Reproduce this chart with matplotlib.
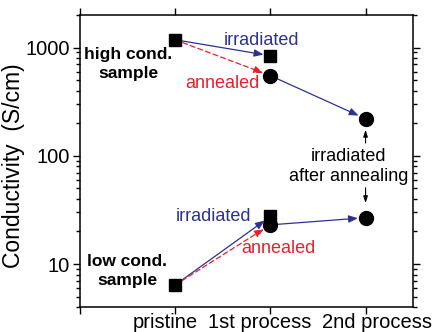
import matplotlib
matplotlib.use("Agg")
import matplotlib.pyplot as plt
import matplotlib.transforms as mtransforms
from matplotlib.ticker import FixedLocator, FixedFormatter, LogLocator, NullFormatter

plt.rcParams['font.family'] = ['Liberation Sans', 'DejaVu Sans']

# stages along the x axis
stages = ["pristine", "1st process", "2nd process"]
stage_pos = [1, 2, 3]

# conductivity values (S/cm)
high_irr = [1180, 840]          # pristine -> 1st process (irradiated)
high_ann = [1180, 550, 220]     # pristine -> annealed -> irradiated after annealing
low_irr = [6.4, 27.5]
low_ann = [6.4, 23, 26.8]

blue = "#2e3192"
red = "#e8202a"

fig = plt.figure(figsize=(4.34, 3.32), dpi=100)
ax = fig.add_axes([0.184, 0.075, 0.768, 0.88])
ax.set_yscale("log")
ax.set_xlim(0, 3.5)
ax.set_ylim(4, 2000)


def arrow(x0, y0, x1, y1, color, ls="-", sa=0, sb=5):
    ax.annotate("", xy=(x1, y1), xytext=(x0, y0),
                arrowprops=dict(arrowstyle="-|>,head_length=0.55,head_width=0.22",
                                color=color, lw=0.9, linestyle=ls,
                                shrinkA=sa, shrinkB=sb),
                zorder=2)


for irr, ann in [(high_irr, high_ann), (low_irr, low_ann)]:
    arrow(stage_pos[0], irr[0], stage_pos[1], irr[1], blue, sb=5)
    arrow(stage_pos[0], ann[0], stage_pos[1], ann[1], red, ls=(0, (4, 2.5)), sb=5.5)
    arrow(stage_pos[1], ann[1], stage_pos[2], ann[2], blue, sb=5.5)
    ax.plot(stage_pos[:2], irr, ls="none", marker="s", ms=8.5, color="black", zorder=3)
    ax.plot(stage_pos[1:], ann[1:], ls="none", marker="o", ms=10, color="black", zorder=3)

# small black arrows to the "irradiated after annealing" points
ax.annotate("", xy=(stage_pos[2], high_ann[2]), xytext=(0, -17.5), textcoords="offset points",
            arrowprops=dict(arrowstyle="-|>,head_length=0.4,head_width=0.13",
                            color="black", lw=0.8, shrinkA=0, shrinkB=8))
ax.annotate("", xy=(stage_pos[2], low_ann[2]), xytext=(0, 21.5), textcoords="offset points",
            arrowprops=dict(arrowstyle="-|>,head_length=0.4,head_width=0.13",
                            color="black", lw=0.8, shrinkA=0, shrinkB=10.5))

fs = 13
ax.text(0.51, 710, "high cond.\nsample", ha="center", va="center", fontsize=12.5,
        fontweight="bold", linespacing=1.35)
ax.text(0.50, 8.6, "low cond.\nsample", ha="center", va="center", fontsize=12.5,
        fontweight="bold", linespacing=1.35)
ax.text(1.91, 1160, "irradiated", ha="center", va="center", fontsize=fs, color=blue)
ax.text(1.50, 462, "annealed", ha="center", va="center", fontsize=fs, color=red)
ax.text(1.40, 27.4, "irradiated", ha="center", va="center", fontsize=fs, color=blue)
ax.text(2.08, 13.8, "annealed", ha="center", va="center", fontsize=fs, color=red)
ax.text(2.82, 80, "irradiated\nafter annealing", ha="center", va="center", fontsize=fs,
        linespacing=1.25)

ax.xaxis.set_major_locator(FixedLocator([0] + stage_pos))
ax.xaxis.set_major_formatter(FixedFormatter([""] + stages))
ax.yaxis.set_major_locator(FixedLocator([10, 100, 1000]))
ax.yaxis.set_major_formatter(FixedFormatter(["10", "100", "1000"]))
ax.yaxis.set_minor_locator(LogLocator(base=10, subs=range(2, 10)))
ax.yaxis.set_minor_formatter(NullFormatter())

ax.tick_params(which="both", direction="out", top=True, right=True, width=1)
ax.tick_params(which="major", length=5, labelsize=14.5, pad=2)
ax.tick_params(which="minor", length=3)
ax.tick_params(axis="x", labelsize=14.5, pad=-1)
for s in ax.spines.values():
    s.set_linewidth(1.1)

# the x labels sit a little off their ticks in the original
for lab, dx in zip(ax.get_xticklabels(), [0, -10, -10.5, 11.5]):
    lab.set_transform(lab.get_transform() +
                      mtransforms.ScaledTranslation(dx / 100, 0, fig.dpi_scale_trans))

ax.set_ylabel("Conductivity  (S/cm)", fontsize=16.5)
ax.yaxis.set_label_coords(-0.165, 0.483)

fig.savefig("out.png", dpi=100)
